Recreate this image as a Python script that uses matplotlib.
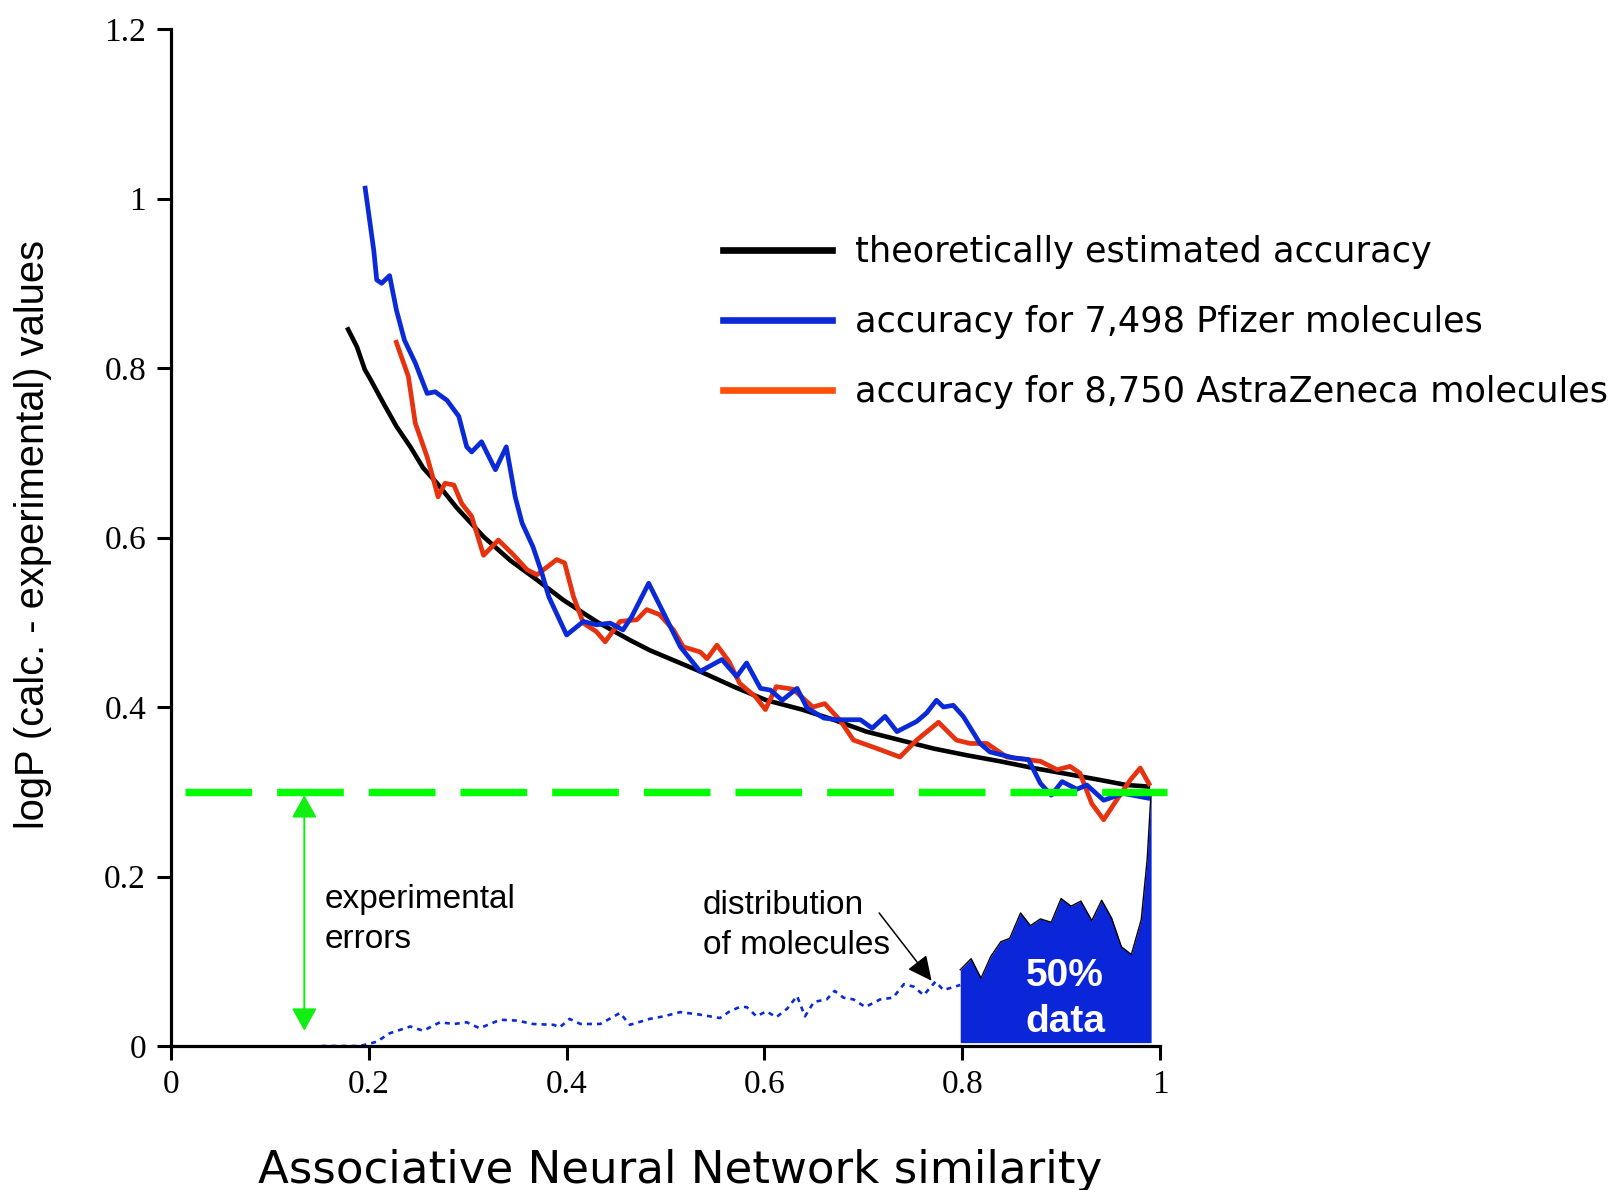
import matplotlib
matplotlib.use("Agg")
import matplotlib.pyplot as plt
from matplotlib.patches import FancyArrowPatch, ArrowStyle
from matplotlib.lines import Line2D
import numpy as np

# theoretical accuracy curve
theory_x = [0.178, 0.188, 0.196, 0.201, 0.215, 0.228, 0.242, 0.255, 0.269, 0.289,
            0.316, 0.343, 0.370, 0.397, 0.430, 0.464, 0.484, 0.535, 0.569, 0.602,
            0.638, 0.670, 0.703, 0.737, 0.771, 0.805, 0.838, 0.872, 0.906, 0.939,
            0.966, 0.990]
theory_y = [0.848, 0.825, 0.798, 0.788, 0.758, 0.731, 0.707, 0.682, 0.664, 0.635,
            0.601, 0.573, 0.550, 0.526, 0.501, 0.479, 0.467, 0.442, 0.424, 0.408,
            0.397, 0.385, 0.371, 0.361, 0.351, 0.343, 0.336, 0.328, 0.321, 0.314,
            0.308, 0.306]

# Pfizer set
pfizer_x = [0.196, 0.205, 0.208, 0.213, 0.221, 0.228, 0.236, 0.247, 0.259, 0.267,
            0.279, 0.291, 0.299, 0.304, 0.314, 0.319, 0.328, 0.339, 0.348, 0.355,
            0.366, 0.375, 0.382, 0.400, 0.417, 0.430, 0.444, 0.457, 0.466, 0.483,
            0.498, 0.515, 0.535, 0.557, 0.572, 0.582, 0.596, 0.606, 0.618, 0.633,
            0.643, 0.660, 0.673, 0.697, 0.709, 0.722, 0.734, 0.754, 0.764, 0.774,
            0.781, 0.791, 0.801, 0.818, 0.828, 0.852, 0.867, 0.879, 0.890, 0.901,
            0.916, 0.926, 0.943, 0.963, 0.990]
pfizer_y = [1.015, 0.939, 0.904, 0.900, 0.909, 0.868, 0.833, 0.806, 0.770, 0.772,
            0.762, 0.743, 0.707, 0.701, 0.713, 0.701, 0.680, 0.707, 0.648, 0.617,
            0.589, 0.558, 0.530, 0.485, 0.501, 0.497, 0.499, 0.491, 0.507, 0.546,
            0.511, 0.471, 0.442, 0.456, 0.436, 0.452, 0.422, 0.420, 0.408, 0.422,
            0.399, 0.387, 0.385, 0.385, 0.375, 0.389, 0.371, 0.383, 0.393, 0.408,
            0.400, 0.402, 0.389, 0.357, 0.347, 0.340, 0.338, 0.310, 0.296, 0.312,
            0.303, 0.308, 0.290, 0.298, 0.292]

# AstraZeneca set
az_x = [0.227, 0.240, 0.247, 0.259, 0.265, 0.270, 0.277, 0.286, 0.294, 0.304,
        0.316, 0.331, 0.345, 0.360, 0.370, 0.390, 0.398, 0.407, 0.417, 0.430,
        0.439, 0.454, 0.471, 0.481, 0.494, 0.508, 0.518, 0.535, 0.542, 0.552,
        0.564, 0.575, 0.591, 0.601, 0.612, 0.629, 0.649, 0.661, 0.676, 0.690,
        0.714, 0.737, 0.754, 0.776, 0.794, 0.808, 0.825, 0.845, 0.879, 0.896,
        0.909, 0.919, 0.931, 0.943, 0.956, 0.970, 0.980, 0.990]
az_y = [0.833, 0.790, 0.735, 0.695, 0.670, 0.648, 0.664, 0.662, 0.640, 0.625,
        0.579, 0.597, 0.581, 0.562, 0.556, 0.574, 0.570, 0.530, 0.499, 0.489,
        0.477, 0.501, 0.503, 0.515, 0.509, 0.491, 0.471, 0.465, 0.457, 0.473,
        0.454, 0.428, 0.412, 0.397, 0.424, 0.421, 0.400, 0.404, 0.385, 0.361,
        0.351, 0.341, 0.361, 0.382, 0.361, 0.357, 0.357, 0.341, 0.336, 0.326,
        0.330, 0.322, 0.286, 0.267, 0.290, 0.314, 0.328, 0.307]

# distribution of molecules (low-similarity tail, dotted)
dist_x = [0.152, 0.191, 0.208, 0.221, 0.242, 0.255, 0.272, 0.286, 0.299, 0.312,
          0.333, 0.350, 0.366, 0.387, 0.393, 0.403, 0.414, 0.434, 0.454, 0.464,
          0.484, 0.498, 0.515, 0.535, 0.555, 0.565, 0.575, 0.582, 0.592, 0.602,
          0.612, 0.623, 0.633, 0.641, 0.650, 0.663, 0.671, 0.680, 0.690, 0.702,
          0.717, 0.730, 0.741, 0.751, 0.761, 0.773, 0.781, 0.798]
dist_y = [0.0, 0.0, 0.005, 0.015, 0.023, 0.018, 0.028, 0.026, 0.028, 0.021,
          0.031, 0.030, 0.026, 0.025, 0.022, 0.032, 0.026, 0.026, 0.039, 0.025,
          0.032, 0.035, 0.040, 0.037, 0.033, 0.041, 0.046, 0.046, 0.035, 0.041,
          0.034, 0.044, 0.059, 0.035, 0.052, 0.055, 0.065, 0.057, 0.055, 0.046,
          0.055, 0.057, 0.073, 0.070, 0.060, 0.076, 0.066, 0.072]

# high-similarity half of the data (filled)
top_x = [0.798, 0.809, 0.819, 0.829, 0.839, 0.848, 0.859, 0.869, 0.879, 0.890,
         0.900, 0.910, 0.920, 0.931, 0.941, 0.951, 0.961, 0.971, 0.981, 0.987,
         0.991]
top_y = [0.090, 0.103, 0.080, 0.106, 0.123, 0.127, 0.157, 0.142, 0.150, 0.146,
         0.174, 0.165, 0.171, 0.148, 0.172, 0.151, 0.117, 0.108, 0.149, 0.220,
         0.300]
top_base = 0.004

exp_error = 0.3
exp_line_x = [0.0142, 1.007]
err_arrow_x = 0.1348
err_arrow_y = [0.296, 0.018]
dist_arrow_tail = (0.716, 0.157)
dist_arrow_tip = (0.769, 0.077)

xticks = [0, 0.2, 0.4, 0.6, 0.8, 1]
xtick_labels = ["0", "0.2", "0.4", "0.6", "0.8", "1"]
yticks = [0, 0.2, 0.4, 0.6, 0.8, 1.0, 1.2]
ytick_labels = ["0", "0.2", "0.4", "0.6", "0.8", "1", "1.2"]

legend_labels = ["theoretically estimated accuracy",
                 "accuracy for 7,498 Pfizer molecules",
                 "accuracy for 8,750 AstraZeneca molecules"]

BLUE = "#0A2AD8"
RED = "#E6320E"
ORANGE = "#FF5008"
GREEN = "#00FF00"

fig = plt.figure(figsize=(16.24, 11.9), dpi=100)
ax = fig.add_axes([0.1053, 0.1210, 0.6090, 0.8546])

# distribution of molecules
ax.plot(dist_x, dist_y, color=BLUE, lw=1.9, linestyle=(0, (1.9, 1.9)))
ax.fill_between(top_x, top_base, top_y, color="#0B26D9", lw=0)
ax.plot(top_x, top_y, color="black", lw=1.0)

# curves
curve_kw = dict(solid_capstyle="butt", solid_joinstyle="round")
ax.plot(theory_x, theory_y, color="black", lw=3.3, **curve_kw)
ax.plot(az_x, az_y, color=RED, lw=3.4, **curve_kw)
ax.plot(pfizer_x, pfizer_y, color=BLUE, lw=3.4, **curve_kw)

# experimental error level
glw = 5.3
ax.plot(exp_line_x, [exp_error, exp_error], color=GREEN, lw=glw,
        linestyle=(0, (48 / glw, 18 / glw)), clip_on=False, zorder=5)

ax.add_patch(FancyArrowPatch((err_arrow_x, err_arrow_y[0]), (err_arrow_x, err_arrow_y[1]),
                             arrowstyle=ArrowStyle("<|-|>", head_length=14, head_width=7.8),
                             mutation_scale=1, color="#11EE11", lw=1.4,
                             shrinkA=0, shrinkB=0))
ax.add_patch(FancyArrowPatch(dist_arrow_tail, dist_arrow_tip,
                             arrowstyle=ArrowStyle("-|>", head_length=15, head_width=7.3),
                             mutation_scale=1, color="black", lw=1.1,
                             shrinkA=0, shrinkB=0))

ax.text(0.1557, 0.1153, "experimental\nerrors", fontsize=24, family="Liberation Sans",
        ha="left", va="baseline", linespacing=1.38)
ax.text(0.538, 0.1086, "distribution\nof molecules", fontsize=24, family="Liberation Sans",
        ha="left", va="baseline", linespacing=1.36)
ax.text(0.904, 0.0555, "50%\ndata", fontsize=28, family="Liberation Sans", weight="bold",
        color="white", ha="center", va="center", linespacing=1.36)

ax.set_xlim(0, 1)
ax.set_ylim(0, 1.2)
ax.set_xticks(xticks)
ax.set_xticklabels(xtick_labels)
ax.set_yticks(yticks)
ax.set_yticklabels(ytick_labels)
for lab in ax.get_xticklabels() + ax.get_yticklabels():
    lab.set_family("Liberation Serif")
    lab.set_fontsize(24)
ax.tick_params(direction="out", length=10, width=2.2, pad=8)
ax.tick_params(axis="x", pad=7)
ax.spines["top"].set_visible(False)
ax.spines["right"].set_visible(False)
ax.spines["left"].set_linewidth(2.3)
ax.spines["bottom"].set_linewidth(2.3)

handles = [Line2D([], [], color="black", lw=4.8),
           Line2D([], [], color=BLUE, lw=4.8),
           Line2D([], [], color=ORANGE, lw=4.8)]
fig.legend(handles, legend_labels, loc="upper left",
           bbox_to_anchor=(723 / 1624, 1 - 235 / 1190), frameon=False,
           prop={"family": "DejaVu Sans", "size": 25.3}, handlelength=3.1,
           handletextpad=0.65, labelspacing=1.03, borderpad=0, borderaxespad=0)

fig.text(0.4187, 0.006, "Associative Neural Network similarity", fontsize=32.5,
         family="DejaVu Sans", ha="center", va="baseline")
fig.text(0.0205, 0.5508, "logP (calc. - experimental) values", fontsize=28.7,
         family="Liberation Sans", rotation=90, ha="center", va="center")

fig.savefig("out.png", dpi=100)
